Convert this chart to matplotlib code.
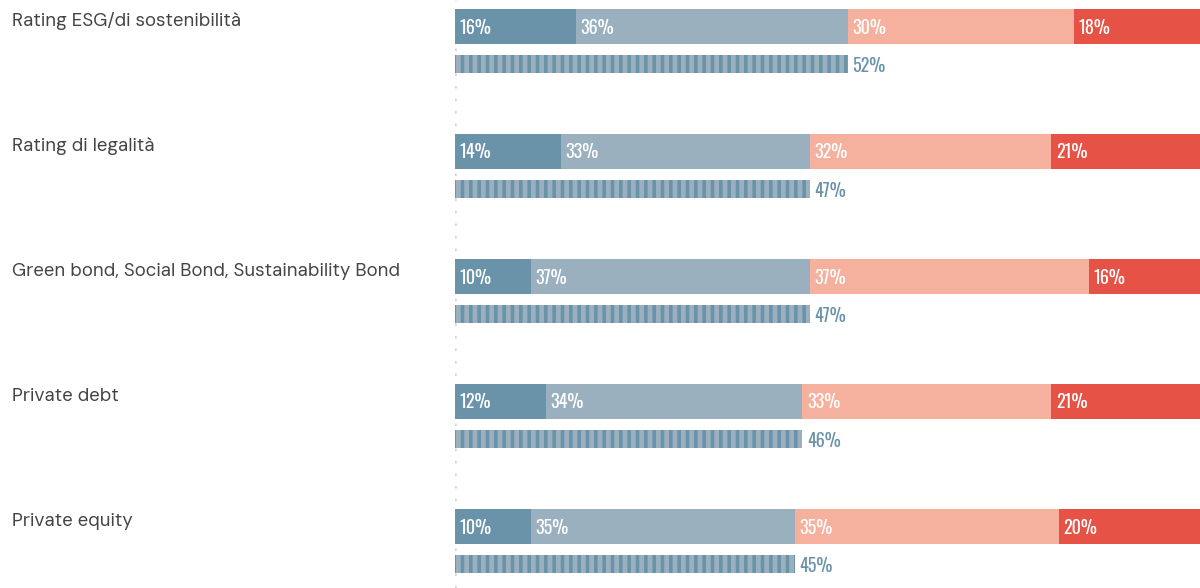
import matplotlib.pyplot as plt

categories = ['Rating ESG/di sostenibilità', 'Rating di legalità',
              'Green bond, Social Bond, Sustainability Bond',
              'Private debt', 'Private equity']
seg1 = [16, 14, 10, 12, 10]
seg2 = [36, 33, 37, 34, 35]
seg3 = [30, 32, 37, 33, 35]
seg4 = [18, 21, 16, 21, 20]
totals = [52, 47, 47, 46, 45]

colors = ['#6a93aa', '#9ab0bf', '#f5b09e', '#e65245']
pct_font = ['Oswald', 'DejaVu Sans']
label_font = ['DM Sans', 'DejaVu Sans']

plt.rcParams['hatch.linewidth'] = 2.6

fig = plt.figure(figsize=(12, 5.88), dpi=100)
ax = fig.add_axes([455 / 1200, 0, 745 / 1200, 1])
ax.set_xlim(0, 745 / 7.55)
ax.set_ylim(588, 0)
ax.axis('off')

# dotted baseline
ax.axvline(0, color='#cdd6de', linestyle=(0, (1, 4)), lw=1.8, zorder=0)

main_y = [26.5 + 125 * i for i in range(5)]
sub_y = [y + 37.5 for y in main_y]

for i, cat in enumerate(categories):
    left = 0
    for vals, c in zip([seg1, seg2, seg3, seg4], colors):
        v = vals[i]
        ax.barh(main_y[i], v, left=left, height=35, color=c, lw=0)
        ax.text(left + 0.6, main_y[i] + 1, f'{v}%', color='white', fontsize=13,
                family=pct_font, va='center', ha='left')
        left += v
    ax.barh(sub_y[i], totals[i], height=18, color='#9ab0bf', edgecolor='#6a93aa',
            hatch='||', lw=0)
    ax.text(totals[i] + 0.6, sub_y[i] + 2, f'{totals[i]}%', color='#6a93aa',
            fontsize=13, family=pct_font, va='center', ha='left')
    fig.text(12 / 1200, 1 - (main_y[i] - 5) / 588, cat, fontsize=13.4,
             family=label_font, color='#444444', va='center', ha='left')

fig.savefig('out.png', dpi=100)
